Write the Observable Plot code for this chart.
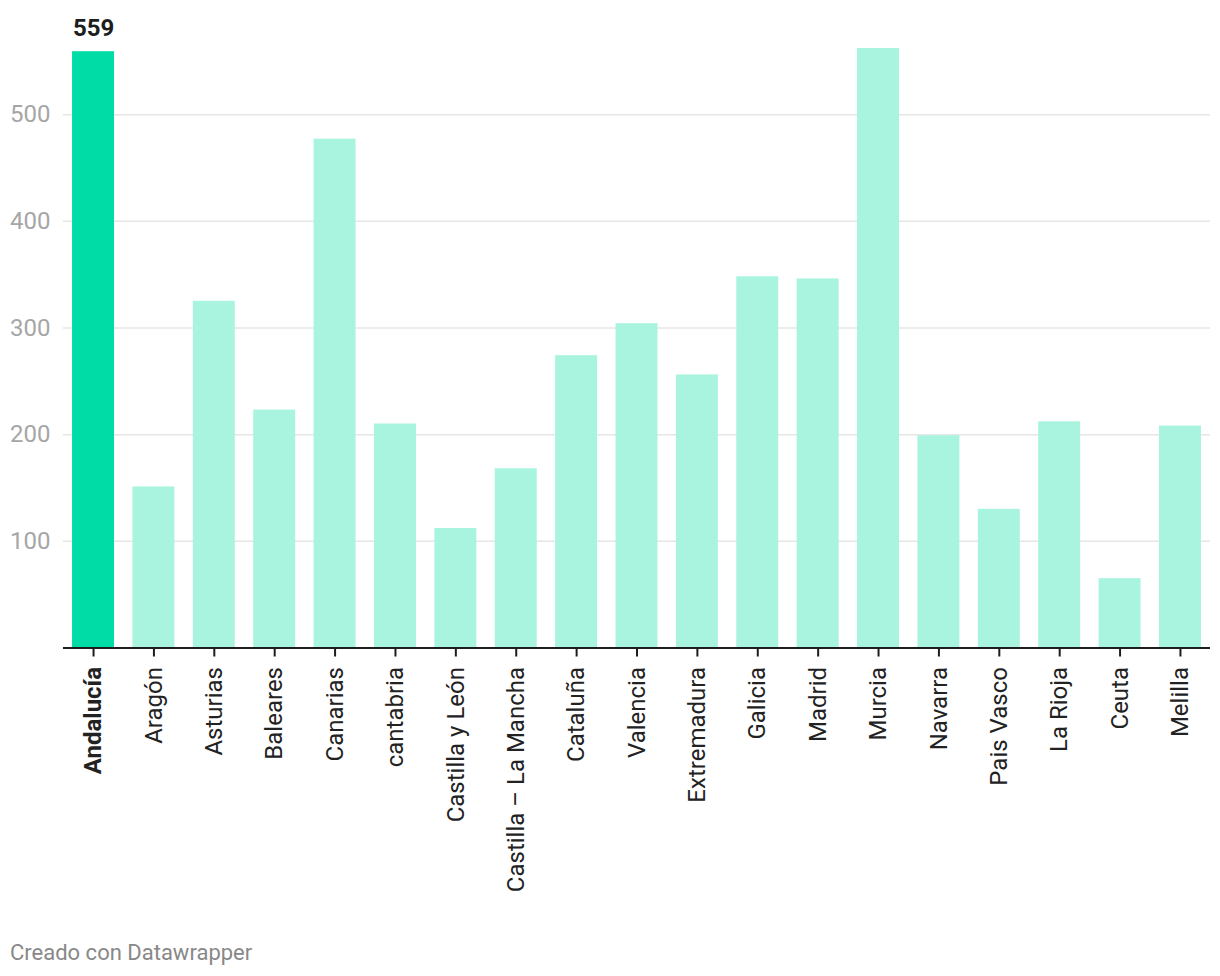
<!DOCTYPE html>
<html>
<head>
<meta charset="utf-8">
<script src="https://cdn.jsdelivr.net/npm/d3@7"></script>
<script src="https://cdn.jsdelivr.net/npm/@observablehq/plot@0.6"></script>
<style>
  body { margin: 0; background: #fff; font-family: Roboto, sans-serif; }
  #caption { font-family: Roboto, sans-serif; font-size: 22px; line-height: 26px; color: #888; padding: 10px 0 0 10px; }
</style>
</head>
<body>
<div id="chart"></div>
<div id="caption">Creado con Datawrapper</div>
<script>
const categories = ["Andalucía", "Aragón", "Asturias", "Baleares", "Canarias", "cantabria", "Castilla y León", "Castilla – La Mancha", "Cataluña", "Valencia", "Extremadura", "Galicia", "Madrid", "Murcia", "Navarra", "Pais Vasco", "La Rioja", "Ceuta", "Melilla"];
const values = [559, 151, 325, 223, 477, 210, 112, 168, 274, 304, 256, 348, 346, 562, 199, 130, 212, 65, 208];
const highlighted = ["Andalucía"];
const yTicks = [100, 200, 300, 400, 500];

const data = categories.map((c, i) => ({region: c, value: values[i], hl: highlighted.includes(c)}));

const H = 930;
const chart = Plot.plot({
  width: 1220,
  height: H,
  marginLeft: 63,
  marginRight: 10,
  marginTop: 48,
  marginBottom: H - 647.5,
  style: {fontFamily: "Roboto, sans-serif", background: "#fff"},
  x: {domain: categories, paddingInner: 0.305, paddingOuter: 0.15, round: false, label: null},
  y: {domain: [0, 562], label: null},
  marks: [
    Plot.gridY(yTicks, {stroke: "#e6e6e6", strokeOpacity: 1, strokeWidth: 1.5}),
    Plot.barY(data, {x: "region", y: "value", fill: d => d.hl ? "#00dca6" : "#a8f4df"}),
    Plot.ruleY([0], {stroke: "#1d1d1d", strokeWidth: 2}),
    Plot.axisY(yTicks, {tickSize: 0, tickPadding: 13, fontSize: 24, fill: "#a6a6a6", label: null}),
    Plot.axisX({tickRotate: -90, tickSize: 9, tickPadding: 10, fontSize: 24, fill: "#222", stroke: "#1d1d1d", strokeWidth: 2, label: null}),
    Plot.text(data.filter(d => d.hl), {x: "region", y: "value", text: d => String(d.value), dy: -23, fontSize: 24, fontWeight: "bold", fill: "#1d1d1d"})
  ]
});
document.getElementById("chart").appendChild(chart);
d3.select(chart).selectAll('g[aria-label="x-axis tick label"] text')
  .filter(function() { return highlighted.includes(this.textContent); })
  .attr("font-weight", "bold");
</script>
</body>
</html>
